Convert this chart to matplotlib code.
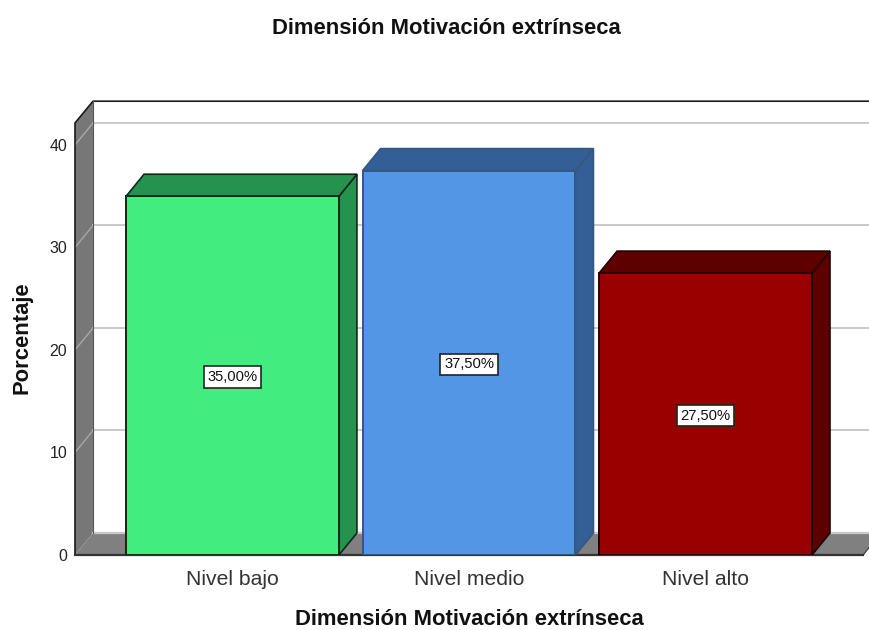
import matplotlib
matplotlib.use("Agg")
import matplotlib.pyplot as plt
from matplotlib.patches import Polygon

categories = ["Nivel bajo", "Nivel medio", "Nivel alto"]
values = [35.0, 37.5, 27.5]
value_labels = ["35,00%", "37,50%", "27,50%"]
front_colors = ["#42EC7F", "#5496E6", "#990000"]
top_colors = ["#26924F", "#345E96", "#5F0000"]
side_colors = ["#26924F", "#345E96", "#5F0000"]
edge_colors = ["#0C2A17", "#34587F", "#200000"]
y_ticks = [0, 10, 20, 30, 40]
title = "Dimensión Motivación extrínseca"
y_title = "Porcentaje"

plt.rcParams["font.family"] = ["Liberation Sans", "DejaVu Sans"]
W, H = 869, 630
fig = plt.figure(figsize=(W / 100, H / 100), dpi=100)
ax = fig.add_axes([75 / W, (H - 555) / H, (W - 75) / W, (555 - 101) / H])

XMIN, XMAX = -0.666, 2.691
YMAX = 44.29
ax.set_xlim(XMIN, XMAX)
ax.set_ylim(0, YMAX)
DX, DY = 0.076, 2.146
BW = 0.9
WALL_TOP = YMAX - DY
FLOOR_RIGHT = 2.666

for s in ax.spines.values():
    s.set_visible(False)

# left wall and floor
ax.add_patch(Polygon([(XMIN, 0), (XMIN + DX, DY), (XMIN + DX, YMAX), (XMIN, WALL_TOP)],
                     closed=True, fc="#777777", ec="none", zorder=1, clip_on=False))
ax.add_patch(Polygon([(XMIN, 0), (XMIN + DX, DY), (FLOOR_RIGHT + DX, DY), (FLOOR_RIGHT, 0)],
                     closed=True, fc="#808080", ec="none", zorder=1, clip_on=False))
ax.plot([XMIN + DX, XMAX + 0.1], [DY, DY], color="#C8C8C8", lw=1.6, zorder=1.5)

# gridlines
for t in y_ticks[1:]:
    ax.plot([XMIN + DX, XMAX + 0.1], [t + DY, t + DY], color="#C9C9C9", lw=1.4, zorder=1.5)
    ax.plot([XMIN, XMIN + DX], [t, t + DY], color="#A8A8A8", lw=1.0, zorder=1.6)

# outlines of walls
ax.plot([XMIN, XMIN, XMIN + DX, XMAX + 0.1], [0, WALL_TOP, YMAX - 0.02, YMAX - 0.02],
        color="#1A1A1A", lw=1.2, zorder=1.8, clip_on=False)
ax.plot([XMIN + DX, XMIN + DX], [DY, YMAX], color="#555555", lw=0.8, zorder=1.8)
ax.plot([XMIN, FLOOR_RIGHT], [0, 0], color="#333333", lw=1.6, zorder=1.9, clip_on=False)
ax.plot([FLOOR_RIGHT, FLOOR_RIGHT + DX], [0, DY], color="#333333", lw=0.8, zorder=1.9, clip_on=False)

# bars
for i, v in enumerate(values):
    l, r = i - BW / 2, i + BW / 2
    ec = edge_colors[i]
    ax.add_patch(Polygon([(r, 0), (r + DX, DY), (r + DX, v + DY), (r, v)], closed=True,
                         fc=side_colors[i], ec=ec, lw=1.2, zorder=3 + i))
    ax.add_patch(Polygon([(l, v), (l + DX, v + DY), (r + DX, v + DY), (r, v)], closed=True,
                         fc=top_colors[i], ec=ec, lw=1.2, zorder=3 + i))
    ax.add_patch(Polygon([(l, 0), (l, v), (r, v), (r, 0)], closed=True,
                         fc=front_colors[i], ec=ec, lw=1.4, zorder=3.2 + i))
    ax.text(i, v / 2, value_labels[i], ha="center", va="center_baseline", fontsize=10.6, color="#111111",
            zorder=10, bbox=dict(boxstyle="square,pad=0.25", fc="white", ec="#222222", lw=1.2))

ax.set_xticks(range(len(categories)))
ax.set_xticklabels(categories, fontsize=15.2, color="#333333")
ax.set_yticks(y_ticks)
ax.set_yticklabels([str(t) for t in y_ticks], fontsize=11.4, color="#222222")
ax.tick_params(axis="both", length=0)
ax.tick_params(axis="x", pad=11)
ax.tick_params(axis="y", pad=5.5)

fig.text(446.5 / W, 1 - 29 / H, title, ha="center", va="center", fontsize=15.8, fontweight="bold", color="#111111")
fig.text(469 / W, 1 - 619.5 / H, title, ha="center", va="center", fontsize=15.8, fontweight="bold", color="#111111")
fig.text(22 / W, 1 - 338 / H, y_title, ha="center", va="center", rotation=90, fontsize=15.8, fontweight="bold", color="#111111")

fig.savefig("out.png", dpi=100, facecolor="white")
